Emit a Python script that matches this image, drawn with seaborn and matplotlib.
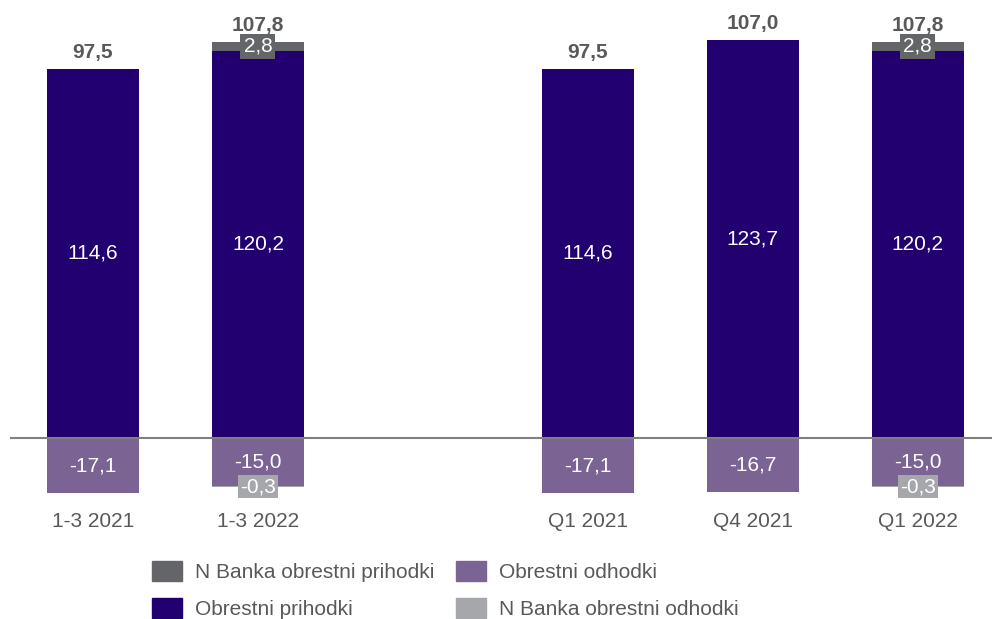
import pandas as pd
import matplotlib.pyplot as plt
import seaborn as sns
from matplotlib.patches import Patch

# slot order (blank slot makes the gap between the two groups)
order = ["1-3 2021", "1-3 2022", "", "Q1 2021", "Q4 2021", "Q1 2022"]

periods = ["1-3 2021", "1-3 2022", "Q1 2021", "Q4 2021", "Q1 2022"]
obrestni_prihodki = [114.6, 120.2, 114.6, 123.7, 120.2]
obrestni_odhodki = [-17.1, -15.0, -17.1, -16.7, -15.0]
skupaj = [97.5, 107.8, 97.5, 107.0, 107.8]

nb_periods = ["1-3 2022", "Q1 2022"]
nb_prihodki = [2.8, 2.8]
nb_odhodki = [-0.3, -0.3]

c_op = "#220070"
c_oo = "#7b6493"
c_nbp = "#636569"
c_nbo = "#a6a7aa"
c_txt = "#595959"
fs = 15

sns.set_style("white")
plt.rcParams['font.family'] = ['Liberation Sans', 'DejaVu Sans']

fig = plt.figure(figsize=(9.92, 6.19), dpi=100)
ax = fig.add_axes([10 / 992, 1 - 505 / 619, 982 / 992, 495 / 619])

df = pd.DataFrame({"period": periods, "op": obrestni_prihodki, "oo": obrestni_odhodki})
nb = pd.DataFrame({"period": nb_periods, "nbp": nb_prihodki, "nbo": nb_odhodki})
base_p = dict(zip(periods, obrestni_prihodki))
base_o = dict(zip(periods, obrestni_odhodki))

kw = dict(order=order, width=0.56, saturation=1, errorbar=None, linewidth=0, ax=ax)
sns.barplot(data=df, x="period", y="op", color=c_op, **kw)
sns.barplot(data=df, x="period", y="oo", color=c_oo, **kw)
sns.barplot(data=nb, x="period", y="nbp", color=c_nbp,
            bottom=[base_p[p] for p in nb_periods], **kw)
sns.barplot(data=nb, x="period", y="nbo", color=c_nbo,
            bottom=[base_o[p] for p in nb_periods], **kw)

fmt = lambda v: f"{v:.1f}".replace(".", ",")

ax.bar_label(ax.containers[0], labels=[fmt(v) for v in obrestni_prihodki],
             label_type="center", color="white", fontsize=fs)
ax.bar_label(ax.containers[1], labels=[fmt(v) for v in obrestni_odhodki],
             label_type="center", color="white", fontsize=fs)
ax.bar_label(ax.containers[2], labels=[fmt(v) for v in nb_prihodki],
             label_type="center", color="white", fontsize=fs,
             bbox=dict(boxstyle="square,pad=0.15", fc=c_nbp, ec="none"))
ax.bar_label(ax.containers[3], labels=[fmt(v) for v in nb_odhodki],
             label_type="center", color="white", fontsize=fs,
             bbox=dict(boxstyle="square,pad=0.1", fc=c_nbo, ec="none"))

# totals above the bars
for p, tot in zip(periods, skupaj):
    top = base_p[p] + (nb_prihodki[nb_periods.index(p)] if p in nb_periods else 0)
    ax.annotate(fmt(tot), (order.index(p), top), xytext=(0, 5),
                textcoords="offset points", ha="center", va="bottom",
                fontsize=fs, fontweight="bold", color=c_txt)

ax.axhline(0, color="#808080", lw=1.5)
ax.set_xlim(-0.503, 5.45)
ax.set_ylim(-20.8, 132.9)
ax.set_xlabel("")
ax.set_ylabel("")
ax.set_yticks([])
ax.tick_params(axis="x", length=0, pad=5, labelsize=fs, labelcolor=c_txt)
sns.despine(ax=ax, left=True, bottom=True)

handles = [Patch(color=c_nbp), Patch(color=c_op), Patch(color=c_oo), Patch(color=c_nbo)]
labels = ["N Banka obrestni prihodki", "Obrestni prihodki",
          "Obrestni odhodki", "N Banka obrestni odhodki"]
leg = fig.legend(handles, labels, ncol=2, frameon=False, loc="center",
                 bbox_to_anchor=(445 / 992, 1 - 590 / 619), fontsize=fs,
                 handlelength=1.44, handleheight=1.1, handletextpad=0.62,
                 columnspacing=1.05, labelspacing=0.75)
for t in leg.get_texts():
    t.set_color(c_txt)

fig.savefig("out.png", dpi=100)
